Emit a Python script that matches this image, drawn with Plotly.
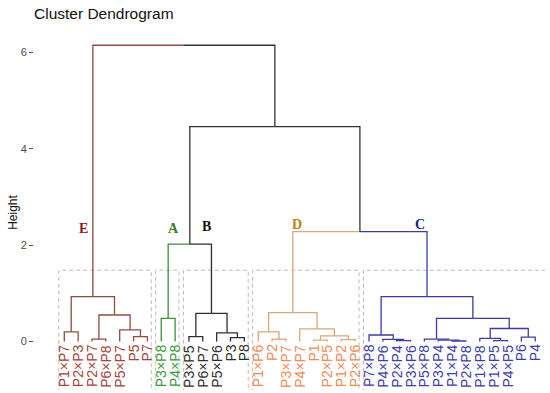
import plotly.graph_objects as go

# ---------------- data ----------------
# merge nodes: (height, left, right); leaves: label strings; cluster roots: (name, subtree)
cluster_E = ("E", (0.93, (0.20, "P1×P7", "P2×P3"),
                   (0.55, (0.05, "P2×P7", "P6×P8"),
                          (0.24, "P5×P7", (0.10, "P5", "P7")))))
cluster_A = ("A", (0.48, "P3×P8", "P4×P8"))
cluster_B = ("B", (0.585, (0.10, "P3×P5", "P6×P7"),
                   (0.18, "P5×P6", (0.08, "P3", "P8"))))
cluster_D = ("D", (0.60, (0.20, "P1×P6", (0.05, "P2", "P3×P7")),
                   (0.26, "P4×P7", (0.115, (0.03, "P1", "P2×P5"),
                                           (0.04, "P1×P2", "P2×P6")))))
cluster_C = ("C", (0.93, (0.135, "P7×P8", (0.045, "P4×P6", (0.02, "P2×P4", "P3×P6"))),
                   (0.48, (0.05, "P5×P8", (0.03, "P3×P4", (0.01, "P1×P4", "P2×P8"))),
                          (0.27, (0.065, "P1×P8", (0.02, "P1×P5", "P4×P5")),
                                 (0.09, "P6", "P4")))))
upper_heights = {"root": 6.15, "ABDC": 4.46, "AB": 2.02, "DC": 2.28}
tree = (upper_heights["root"], cluster_E,
        (upper_heights["ABDC"],
         (upper_heights["AB"], cluster_A, cluster_B),
         (upper_heights["DC"], cluster_D, cluster_C)))

cluster_names = ["E", "A", "B", "D", "C"]
line_colors = {"E": "#8B4E42", "A": "#3E8E3E", "B": "#2E2E2E", "D": "#D9A67E", "C": "#3C3CA6", None: "#333333"}
label_colors = {"E": "#A8423C", "A": "#3E9A3E", "B": "#2E2E2E", "D": "#F08A58", "C": "#3C3CB0"}
letter_colors = {"E": "#8B1A1A", "A": "#3A7A1E", "B": "#111111", "D": "#B8860B", "C": "#1F1F90"}
y_ticks = [0, 2, 4, 6]
rect_top = 1.48

# ---------------- build dendrogram geometry ----------------
segs = {}
leaves = []


def add_seg(col, xs, ys):
    sx, sy = segs.setdefault(col, ([], []))
    sx.extend(xs + [None])
    sy.extend(ys + [None])


def walk(node, cluster):
    if isinstance(node, str):
        leaves.append((node, len(leaves) + 1, cluster))
        return float(len(leaves)), 0.0, cluster
    if isinstance(node[0], str):
        return walk(node[1], node[0])
    h, left, right = node
    kids = [walk(left, cluster), walk(right, cluster)]
    x = (kids[0][0] + kids[1][0]) / 2
    for cx, ch, ccl in kids:
        add_seg(ccl, [cx, cx, x], [ch, h, h])
    return x, h, cluster


walk(tree, None)

fig = go.Figure()
# dashed cluster boxes
for i, name in enumerate(cluster_names):
    idx = [p for (_, p, c) in leaves if c == name]
    x0 = min(idx) - 0.4
    x1 = max(idx) + (0.28 if i < len(cluster_names) - 1 else 1.2)
    fig.add_trace(go.Scatter(x=[x0, x0, x1, x1], y=[-1.5, rect_top, rect_top, -1.5],
                             mode="lines", line=dict(color="#BDBDBD", width=1, dash="4px,3px"),
                             hoverinfo="skip", showlegend=False))
for col, (xs, ys) in segs.items():
    fig.add_trace(go.Scatter(x=xs, y=ys, mode="lines",
                             line=dict(color=line_colors[col], width=1.3),
                             hoverinfo="skip", showlegend=False))

annotations = []
for lab, p, c in leaves:
    annotations.append(dict(x=p, y=0, xref="x", yref="y", text=lab, showarrow=False,
                            textangle=-90, xanchor="center", yanchor="top", yshift=-1,
                            font=dict(family="Liberation Sans", size=14, color=label_colors[c])))
letter_pos = {"E": (2.42, 2.34), "A": (8.85, 2.34), "B": (11.3, 2.38), "D": (17.8, 2.42), "C": (26.7, 2.43)}
for name in cluster_names:
    lx, ly = letter_pos[name]
    annotations.append(dict(x=lx, y=ly, xref="x", yref="y", text="<b>%s</b>" % name, showarrow=False,
                            font=dict(family="Liberation Serif", size=14, color=letter_colors[name])))

left = 34
sp = 13.85
leaf1 = 64.3
fig.update_layout(
    width=550, height=393,
    margin=dict(l=left, r=5, t=35, b=3, autoexpand=False),
    paper_bgcolor="white", plot_bgcolor="white",
    title=dict(text="Cluster Dendrogram", x=34 / 550, xanchor="left", xref="container",
               y=1 - 14 / 393, yanchor="middle", yref="container",
               font=dict(family="Liberation Sans", size=15.5, color="#111111")),
    xaxis=dict(range=[1 - (leaf1 - left) / sp, 1 + (545 - leaf1) / sp], visible=False,
               automargin=False),
    yaxis=dict(range=[-1.007, 6.363], tickvals=y_ticks, ticks="outside", ticklen=4,
               tickcolor="#555555", showgrid=False, zeroline=False, showline=False,
               automargin=False,
               tickfont=dict(family="Liberation Sans", size=11, color="#4D4D4D"),
               title=dict(text="Height", standoff=0,
                          font=dict(family="Liberation Sans", size=12, color="#111111"))),
    annotations=annotations,
)
fig.write_html("out.html", config={"displayModeBar": False},
               post_script="document.body.style.margin='0px';")
